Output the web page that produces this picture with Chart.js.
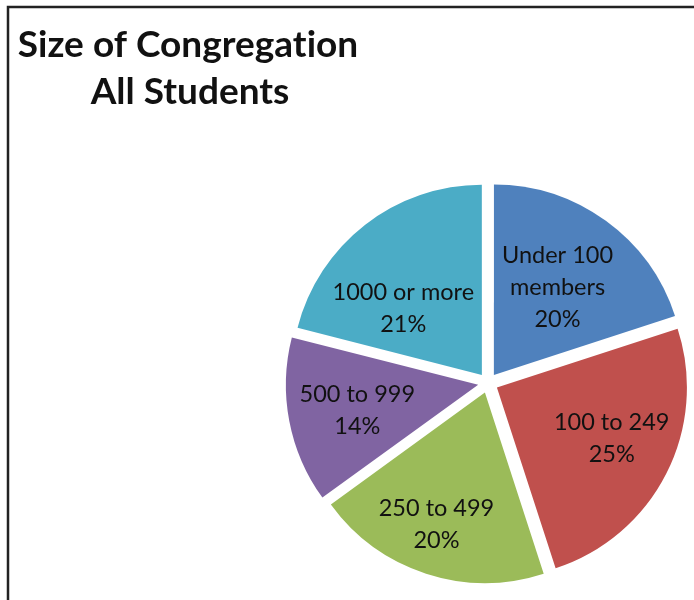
<!DOCTYPE html>
<html>
<head>
<meta charset="utf-8">
<script src="https://cdn.jsdelivr.net/npm/chart.js@4"></script>
<style>
  html, body { margin: 0; padding: 0; background: #fff; }
  #chart { display: block; }
</style>
</head>
<body>
<canvas id="chart" width="694" height="600"></canvas>
<script>
const titleLines = ['Size of Congregation', 'All Students'];
const categories = [['Under 100', 'members'], ['100 to 249'], ['250 to 499'], ['500 to 999'], ['1000 or more']];
const percents = [20, 25, 20, 14, 21];
const colors = ['#4F81BD', '#C0504D', '#9BBB59', '#8064A2', '#4BACC6'];

// where each data label sits: fraction of the radius, and a small turn off the slice middle (degrees)
const labelFrac = [0.57, 0.66, 0.74, 0.65, 0.54];
const labelTurn = [0, -3, 2, -1, -11];
const SLICE_GAP = 10;

const framePlugin = {
  id: 'frame',
  beforeDraw(chart) {
    const ctx = chart.ctx;
    ctx.save();
    ctx.fillStyle = '#fff';
    ctx.fillRect(0, 0, chart.width, chart.height);
    ctx.strokeStyle = '#222';
    ctx.lineWidth = 2.5;
    ctx.beginPath();
    ctx.moveTo(8, chart.height);
    ctx.lineTo(8, 7);
    ctx.lineTo(chart.width, 7);
    ctx.stroke();

    ctx.fillStyle = '#111';
    ctx.font = 'bold 37px Lato';
    // tiny spacing keeps Lato from joining "ti" into a ligature
    ctx.letterSpacing = '0.01px';
    ctx.textAlign = 'center';
    ctx.textBaseline = 'alphabetic';
    ctx.fillText(titleLines[0], 188, 57);
    ctx.fillText(titleLines[1], 190, 104);
    ctx.restore();
  }
};

const labelPlugin = {
  id: 'sliceLabels',
  afterDatasetsDraw(chart) {
    const ctx = chart.ctx;
    const arcs = chart.getDatasetMeta(0).data;
    ctx.save();
    ctx.fillStyle = '#111';
    ctx.font = '23.5px Lato';
    ctx.textAlign = 'center';
    ctx.textBaseline = 'middle';
    arcs.forEach((arc, i) => {
      const mid = (arc.startAngle + arc.endAngle) / 2 + labelTurn[i] * Math.PI / 180;
      const r = SLICE_GAP + labelFrac[i] * arc.outerRadius;
      const x = arc.x + Math.cos(mid) * r;
      const y = arc.y + Math.sin(mid) * r;
      const lines = categories[i].concat([percents[i] + '%']);
      const lh = 32;
      lines.forEach((t, j) => {
        ctx.fillText(t, x, y + (j - (lines.length - 1) / 2) * lh);
      });
    });
    ctx.restore();
  }
};

new Chart(document.getElementById('chart'), {
  type: 'pie',
  data: {
    labels: categories.map(c => c.join(' ')),
    datasets: [{
      data: percents,
      backgroundColor: colors,
      borderWidth: 0,
      offset: SLICE_GAP * 4
    }]
  },
  options: {
    responsive: false,
    animation: false,
    radius: 190,
    layout: {
      padding: { left: 288, right: 6, top: 183, bottom: 17 }
    },
    plugins: {
      legend: { display: false },
      tooltip: { enabled: false },
      title: { display: false }
    }
  },
  plugins: [framePlugin, labelPlugin]
});
</script>
</body>
</html>
